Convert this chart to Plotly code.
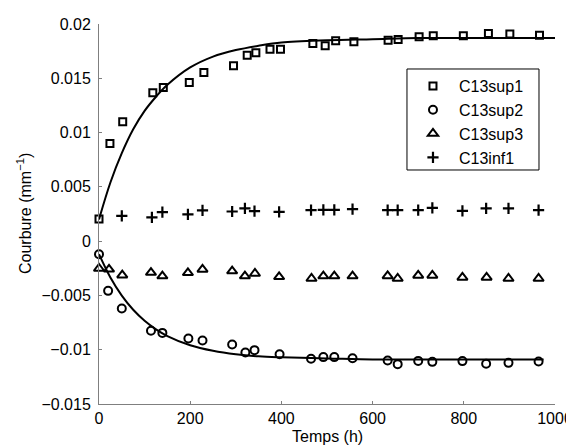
import plotly.graph_objects as go

# ---- data ----
t_sup1 = [0, 24, 52, 118, 141, 198, 230, 295, 325, 344, 375, 398, 469, 496, 519,
          559, 634, 656, 702, 733, 799, 854, 901, 966]
v_sup1 = [0.00203, 0.0090, 0.0110, 0.01366, 0.01416, 0.01462, 0.01554, 0.01615, 0.01713,
          0.01735, 0.01768, 0.01768, 0.01821, 0.01799, 0.01845, 0.01836, 0.01851, 0.01858,
          0.01882, 0.01891, 0.01891, 0.01913, 0.01907, 0.01897]

t_sup2 = [0, 20, 50, 114, 139, 196, 227, 292, 321, 341, 396, 465, 492, 516,
          556, 633, 655, 700, 731, 797, 849, 898, 964]
v_sup2 = [-0.0012, -0.00458, -0.0062, -0.00826, -0.00845, -0.00896, -0.00915, -0.00952,
          -0.01025, -0.01004, -0.01041, -0.01084, -0.01068, -0.01068, -0.01078, -0.01099,
          -0.01133, -0.01103, -0.01112, -0.01105, -0.0113, -0.01121, -0.01108]

t_sup3 = [0, 22, 51, 114, 139, 195, 227, 292, 320, 342, 395, 466, 492, 516,
          556, 633, 655, 700, 731, 797, 850, 898, 964]
v_sup3 = [-0.00252, -0.0026, -0.00313, -0.00289, -0.00322, -0.00292, -0.00261, -0.00276,
          -0.00322, -0.00298, -0.00329, -0.00344, -0.00322, -0.00322, -0.00322, -0.0032,
          -0.00344, -0.00316, -0.00316, -0.00334, -0.00334, -0.00344, -0.00344]

t_inf1 = [50, 116, 139, 195, 227, 292, 320, 341, 395, 465, 492, 516,
          556, 633, 655, 700, 731, 797, 849, 898, 964]
v_inf1 = [0.00233, 0.00218, 0.00267, 0.00246, 0.00283, 0.00273, 0.00301, 0.00276, 0.0027,
          0.00286, 0.00288, 0.00288, 0.00295, 0.00286, 0.00286, 0.00286, 0.00307, 0.00279,
          0.00301, 0.00301, 0.00286]

# fitted curves
t_fit1 = [0, 25, 50, 75, 100, 125, 150, 200, 250, 300, 350, 400, 500, 600, 700, 800, 900, 1000]
v_fit1 = [0.0020, 0.0054, 0.0081, 0.0103, 0.0120, 0.0133, 0.0144, 0.0160, 0.0170, 0.0176,
          0.0180, 0.0183, 0.0185, 0.0186, 0.0187, 0.0187, 0.0187, 0.0187]
t_fit2 = [0, 25, 50, 75, 100, 125, 150, 200, 250, 300, 350, 400, 500, 600, 700, 800, 900, 975]
v_fit2 = [-0.0012, -0.00335, -0.00502, -0.00632, -0.00733, -0.00812, -0.00874, -0.00959,
          -0.0101, -0.01042, -0.01061, -0.0107, -0.0108, -0.0109, -0.0109, -0.0109, -0.0109, -0.0109]

y_ticks = [0.02, 0.015, 0.01, 0.005, 0, -0.005, -0.01, -0.015]
y_ticktext = ["0.02", "0.015", "0.01", "0.005", "0", "\u22120.005", "\u22120.01", "\u22120.015"]
x_ticks = [0, 200, 400, 600, 800, 1000]

FONT = "Liberation Sans, Arial, Helvetica, sans-serif"

fig = go.Figure()

fig.add_trace(go.Scatter(x=t_fit1, y=v_fit1, mode="lines", line=dict(color="black", width=2, shape="spline"),
                         showlegend=False, hoverinfo="skip"))
fig.add_trace(go.Scatter(x=t_fit2, y=v_fit2, mode="lines", line=dict(color="black", width=2, shape="spline"),
                         showlegend=False, hoverinfo="skip"))

fig.add_trace(go.Scatter(x=t_sup1, y=v_sup1, mode="markers", name="C13sup1",
                         marker=dict(symbol="square-open", size=7, color="black", line=dict(width=2, color="black")),
                         cliponaxis=False))
fig.add_trace(go.Scatter(x=t_sup2, y=v_sup2, mode="markers", name="C13sup2",
                         marker=dict(symbol="circle-open", size=8, color="black", line=dict(width=2, color="black")),
                         cliponaxis=False))
fig.add_trace(go.Scatter(x=t_sup3, y=v_sup3, mode="markers", name="C13sup3",
                         marker=dict(symbol="triangle-up-open", size=9, color="black", line=dict(width=2, color="black")),
                         cliponaxis=False))
fig.add_trace(go.Scatter(x=t_inf1, y=v_inf1, mode="markers", name="C13inf1",
                         marker=dict(symbol="cross-thin-open", size=8, color="black", line=dict(width=2.2, color="black")),
                         cliponaxis=False))

axis_common = dict(showline=True, linecolor="#7f7f7f", linewidth=1, ticks="inside", ticklen=3,
                   tickcolor="#7f7f7f", tickwidth=1, showgrid=False, zeroline=False, mirror=False,
                   automargin=False, tickfont=dict(family=FONT, size=16, color="black"))

# the page body adds an 8px offset, so the figure is 8px smaller and shifted
fig.update_layout(
    template="none",
    width=566, height=437,
    margin=dict(l=91, r=19, t=16, b=41, autoexpand=False),
    paper_bgcolor="white", plot_bgcolor="white",
    font=dict(family=FONT, size=16, color="black"),
    xaxis=dict(range=[0, 1000], tickvals=x_ticks, ticktext=[str(v) for v in x_ticks], **axis_common),
    yaxis=dict(range=[-0.015, 0.02], tickvals=y_ticks, ticktext=y_ticktext, ticklabelstandoff=4, **axis_common),
    legend=dict(x=0.6754, y=0.8816, xanchor="left", yanchor="top", borderwidth=0,
                bgcolor="rgba(0,0,0,0)", font=dict(family=FONT, size=16), itemwidth=42),
    shapes=[dict(type="rect", xref="paper", yref="paper", x0=0.6754, x1=0.9649, y0=0.6158, y1=0.8816,
                 line=dict(color="black", width=1), fillcolor="white", layer="below")],
    annotations=[
        dict(text="Temps (h)", x=0.5, y=0, xref="paper", yref="paper", xanchor="center", yanchor="middle",
             yshift=-32, showarrow=False, font=dict(family=FONT, size=16)),
        dict(text="Courbure (mm<sup>\u22121</sup>)", x=0, y=0.5, xref="paper", yref="paper", xanchor="center",
             yanchor="middle", xshift=-75, textangle=-90, showarrow=False, font=dict(family=FONT, size=16)),
    ],
)

fig.write_html("out.html")
